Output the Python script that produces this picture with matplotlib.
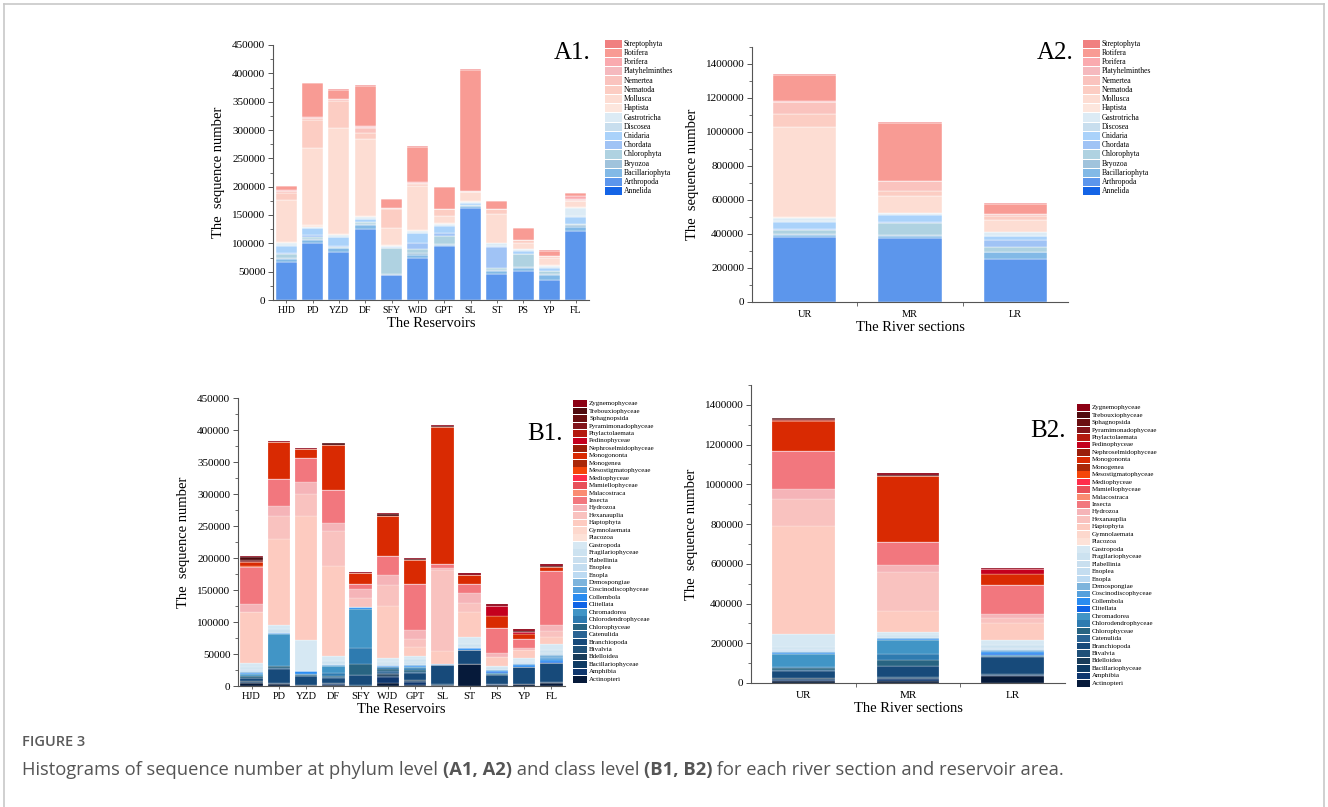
import matplotlib
matplotlib.use('Agg')
import matplotlib.pyplot as plt
from matplotlib.patches import Rectangle
from matplotlib.lines import Line2D
from matplotlib.ticker import MultipleLocator, FixedLocator
import numpy as np

plt.rcParams['font.family'] = ['Liberation Serif', 'DejaVu Serif']

W, H = 1328, 807

reservoirs = ['HJD', 'PD', 'YZD', 'DF', 'SFY', 'WJD', 'GPT', 'SL', 'ST', 'PS', 'YP', 'FL']
sections = ['UR', 'MR', 'LR']

# phyla, bottom of the stack first
phyla = ['Annelida', 'Arthropoda', 'Bacillariophyta', 'Bryozoa', 'Chlorophyta', 'Chordata',
         'Cnidaria', 'Discosea', 'Gastrotricha', 'Haptista', 'Mollusca', 'Nematoda',
         'Nemertea', 'Platyhelminthes', 'Porifera', 'Rotifera', 'Streptophyta']
phylum_colors = ['#1464E6', '#5C96EC', '#82B9E6', '#A0C3DC', '#AFD2E1', '#A0C3F5',
                 '#AAD2FA', '#C8DEEE', '#DCEBF5', '#FDE6DD', '#FDDDD3', '#FCCDC3',
                 '#FAC3BE', '#F5B9BE', '#FAAAAF', '#F89B94', '#F08080']

# sequence number per phylum (x1000), one row per reservoir
a1_counts = [
    [0.5, 66, 5, 2, 8, 2, 12, 1, 3.5, 2, 75, 12, 3, 1, 2, 6, 1],        # HJD
    [0.5, 100, 5, 2, 4, 3, 12, 1, 2, 3, 136, 50, 3, 0.5, 0.5, 60, 0.5],  # PD
    [0.5, 84, 7, 0.5, 2, 0.5, 17, 0.5, 2, 2, 188, 47, 3, 1, 0, 16, 0.5], # YZD
    [0.5, 124, 8, 2, 3, 0.5, 5, 0.5, 3, 2, 135, 12, 8, 2, 1, 72, 1],     # DF
    [0.5, 43, 1, 2, 45, 0.5, 1, 0.5, 2, 1, 30, 34, 1, 0, 0, 17, 0.5],    # SFY
    [0.5, 74, 5, 3, 8, 10, 17, 1, 3, 2, 77, 4, 2, 0.5, 0.5, 63, 1],      # WJD
    [0.5, 94, 2, 2, 15, 5, 12, 1, 3, 2, 12, 12, 0.5, 0, 0, 38, 0.5],     # GPT
    [0.5, 162, 3, 0.5, 1, 0.5, 4, 0.5, 1, 1, 16, 1, 0.5, 0, 0, 215, 1],  # SL
    [0.5, 45, 5, 3, 3, 37, 2, 0.5, 4, 1, 50, 9, 1, 0, 0, 14, 0.5],       # ST
    [0.5, 50, 6, 2, 22, 0.5, 6, 0.5, 2, 1, 10, 5, 0.5, 0, 0, 21, 0.5],   # PS
    [0.5, 34, 10, 1, 6, 0.5, 5, 0.5, 3, 1, 12, 4, 0.5, 0, 0, 9, 0.5],    # YP
    [0.5, 121, 8, 3, 2, 0.5, 12, 2, 13, 2, 10, 1, 2, 1, 5, 5, 1],        # FL
]
a2_counts = [
    [2, 378, 15, 5, 22, 5, 45, 2, 18, 8, 530, 75, 70, 3, 2, 158, 2],     # UR
    [1, 378, 12, 3, 70, 5, 45, 2, 6, 3, 100, 25, 62, 1, 1, 340, 2],      # MR
    [1, 254, 38, 3, 30, 40, 20, 2, 22, 3, 70, 25, 8, 2, 2, 58, 2],       # LR
]

# classes, bottom of the stack first
classes = ['Actinopteri', 'Amphibia', 'Bacillariophyceae', 'Bdelloidea', 'Bivalvia',
           'Branchiopoda', 'Catenulida', 'Chlorophyceae', 'Chlorodendrophyceae', 'Chromadorea',
           'Clitellata', 'Collembola', 'Coscinodiscophyceae', 'Demospongiae', 'Enopla',
           'Enoplea', 'Flabellinia', 'Fragilariophyceae', 'Gastropoda', 'Placozoa',
           'Gymnolaemata', 'Haptophyta', 'Hexanauplia', 'Hydrozoa', 'Insecta',
           'Malacostraca', 'Mamiellophyceae', 'Mediophyceae', 'Mesostigmatophyceae', 'Monogenea',
           'Monogononta', 'Nephroselmidophyceae', 'Pedinophyceae', 'Phylactolaemata',
           'Pyramimonadophyceae', 'Sphagnopsida', 'Trebouxiophyceae', 'Zygnemophyceae']
class_colors = ['#061A3A', '#0F376E', '#0E3A63', '#193C5A', '#1F5078',
                '#174A7A', '#2A6494', '#286482', '#2E7BB0', '#4195C6',
                '#0F64E6', '#2A8CF0', '#55A0DC', '#7DB4DC', '#BCDAF2',
                '#C4DDF0', '#C9DFEF', '#CCE2F0', '#D6E8F3', '#FDE2D8',
                '#FDD8CD', '#FDCBC0', '#F9C2BF', '#F5B4B8', '#F2777E',
                '#FA8C72', '#E8505A', '#FF2D4B', '#F5460A', '#AA2808',
                '#D92A02', '#9A1E0A', '#C4001E', '#B4190F',
                '#82141A', '#6A0E10', '#500A0E', '#8C0014']

# sequence number per class (x1000), one row per reservoir
b1_counts = [
    [4, 0, 2, 2, 0, 5, 0, 3, 0, 3, 0, 1, 1, 1, 1, 2, 2, 2, 7, 0,
     0, 80, 0, 12, 58, 0.5, 0, 0, 1, 0, 6, 0, 0, 0, 2, 2, 4, 1],        # HJD
    [3, 0, 1, 0, 0, 22, 2, 3, 0, 50, 0, 2, 0, 0, 0, 0, 0, 6, 6, 0,
     0, 134, 37, 15, 42, 0, 0, 0, 0, 0, 59, 0, 0, 0, 0, 0, 0, 1],       # PD
    [1, 0, 1, 0, 0, 13, 0, 2, 1, 1, 0, 4, 1, 0, 0, 0, 0, 0, 48, 0,
     0, 193, 35, 18, 38, 0, 0, 0, 0, 0, 14, 0, 0, 0, 0, 0, 1, 1],       # YZD
    [2, 1, 1, 0, 1, 7, 2, 2, 4, 11, 0, 1, 1, 0, 0, 2, 0, 4, 8, 0,
     0, 140, 55, 12, 52, 0, 0, 0, 0, 0, 71, 0, 0, 0, 0, 0, 2, 1],       # DF
    [0, 0, 0, 0, 1, 16, 0, 17, 26, 61, 0, 2, 0, 0, 0, 0, 0, 0, 1, 0,
     0, 0, 14, 14, 8, 0, 0, 0, 0, 0, 17, 0, 0, 0, 0, 0, 0, 1.5],        # SFY
    [4, 10, 2, 2, 0, 3, 2, 3, 3, 0, 1, 2, 0, 0, 0, 2, 0, 4, 6, 0,
     0, 81, 33, 15, 30, 0, 0, 0, 0, 0, 63, 0, 0, 0, 0, 0, 2, 3],        # WJD
    [2, 4, 2, 2, 0, 10, 2, 3, 3, 2, 0, 1, 2, 0, 0, 2, 3, 4, 5, 0,
     0, 14, 13, 13, 72, 0, 0, 0, 0, 0, 38, 0, 0, 0, 0, 0, 1, 2],        # GPT
    [1, 0, 1, 0, 1, 30, 0, 0, 0, 0, 0, 1, 0, 0, 0, 0, 0, 0, 1, 0,
     0, 20, 126, 3, 6, 0, 0, 0, 0, 0, 215, 0, 0, 0, 0, 0, 1, 2],        # SL
    [34, 0, 0, 0, 1, 21, 0, 0, 0, 0, 1, 2, 0, 0, 0, 1, 1, 5, 10, 0,
     0, 40, 13, 16, 14, 0, 0, 0, 0, 0, 14, 0, 0, 0, 0, 0, 1, 2],        # ST
    [1, 2, 0, 0, 0, 14, 0, 2, 0, 2, 1, 2, 1, 0, 0, 2, 0, 2, 2, 0,
     0, 14, 0, 6, 39, 0, 0, 0, 0, 0, 19, 0, 16, 0, 0, 0, 0.5, 2],       # PS
    [3, 0, 0, 0, 0, 26, 0, 0, 0, 0, 1, 3, 2, 0, 0, 1, 1, 2, 4, 0,
     0, 14, 0, 3, 13, 0, 0, 0, 0, 0, 8, 0, 4, 0, 0, 0, 1, 2.5],         # YP
    [5, 0, 1, 0, 0, 30, 0, 0, 0, 0, 2, 3, 2, 5, 0, 0, 3, 5, 9, 0,
     0, 11, 10, 9, 84, 0, 0, 0, 0, 0, 7, 0, 0, 0, 0, 0, 1, 3],          # FL
]
b2_counts = [
    [12, 3, 5, 3, 3, 35, 4, 8, 6, 66, 2, 5, 3, 2, 2, 5, 5, 10, 67, 0,
     0, 545, 134, 52, 193, 0, 0, 0, 0, 0, 151, 0, 0, 3, 2, 2, 4, 4],    # UR
    [8, 12, 3, 3, 2, 56, 2, 28, 33, 70, 1, 4, 2, 0, 0, 6, 3, 8, 14, 0,
     0, 109, 193, 38, 113, 0, 0, 0, 0, 0, 335, 0, 0, 0, 0, 0, 5, 8],    # MR
    [35, 4, 2, 1, 1, 90, 1, 2, 1, 2, 5, 10, 6, 6, 0, 4, 6, 14, 28, 0,
     0, 84, 25, 20, 148, 0, 0, 0, 0, 0, 53, 0, 24, 0, 0, 0, 2, 4],      # LR
]


def px_box(left, top, right, bottom):
    return [left / W, 1 - bottom / H, (right - left) / W, (bottom - top) / H]


def stacked(ax, labels, counts, colors, width, edge):
    x = np.arange(len(labels))
    vals = np.array(counts, dtype=float).T * 1000
    base = np.zeros(len(labels))
    for row, c in zip(vals, colors):
        ax.bar(x, row, width, bottom=base, color=c, edgecolor='white', linewidth=edge)
        base += row


def style(ax, labels, ymax, major, xlabel, tick_size, between=False):
    ax.set_xlim(-0.5, len(labels) - 0.5)
    ax.set_ylim(0, ymax)
    ax.yaxis.set_major_locator(MultipleLocator(major))
    ax.yaxis.set_minor_locator(MultipleLocator(major / 2))
    ax.yaxis.set_major_formatter(lambda v, p: f'{v:.0f}')
    for s in ['top', 'right']:
        ax.spines[s].set_visible(False)
    for s in ['left', 'bottom']:
        ax.spines[s].set_color('#555555')
        ax.spines[s].set_linewidth(0.8)
    ax.set_xticks(np.arange(len(labels)))
    ax.set_xticklabels(labels)
    ax.tick_params(axis='y', which='major', length=3.5, width=0.7, color='#555555',
                   labelsize=8, pad=2)
    ax.tick_params(axis='y', which='minor', length=2, width=0.6, color='#555555')
    if between:
        ax.xaxis.set_minor_locator(FixedLocator(np.arange(len(labels) - 1) + 0.5))
        ax.tick_params(axis='x', which='major', length=0, labelsize=tick_size, pad=6)
        ax.tick_params(axis='x', which='minor', length=3, width=0.6, color='#555555')
    else:
        ax.tick_params(axis='x', which='major', length=2.5, width=0.6, color='#555555',
                       labelsize=tick_size, pad=2)
    ax.set_xlabel(xlabel, fontsize=10.5, labelpad=1)
    ax.set_ylabel('The  sequence number', fontsize=10.5, labelpad=5)


def legend_column(left, top, right, bottom, sw, names, colors, size):
    lax = fig.add_axes(px_box(left, top, right, bottom))
    n = len(names)
    lax.set_xlim(0, right - left)
    lax.set_ylim(n, 0)
    for i, (name, c) in enumerate(zip(names[::-1], colors[::-1])):
        lax.add_patch(Rectangle((0, i + 0.06), sw, 0.88, color=c, lw=0))
        lax.text(sw + 2, i + 0.5, name, va='center', ha='left', fontsize=size)
    lax.axis('off')


fig = plt.figure(figsize=(W / 100, H / 100), dpi=100)

ax_a1 = fig.add_axes(px_box(273, 45, 589, 300))
stacked(ax_a1, reservoirs, a1_counts, phylum_colors, 0.8, 0.3)
style(ax_a1, reservoirs, 450000, 50000, 'The Reservoirs', 7)
ax_a1.text(0.946, 0.969, 'A1.', transform=ax_a1.transAxes, fontsize=18, ha='center', va='center')

ax_a2 = fig.add_axes(px_box(752, 47, 1068, 302))
stacked(ax_a2, sections, a2_counts, phylum_colors, 0.6, 0.3)
style(ax_a2, sections, 1500000, 200000, 'The River sections', 7.5, between=True)
ax_a2.text(0.959, 0.976, 'A2.', transform=ax_a2.transAxes, fontsize=18, ha='center', va='center')

ax_b1 = fig.add_axes(px_box(238, 398, 565, 686))
stacked(ax_b1, reservoirs, b1_counts, class_colors, 0.82, 0.15)
style(ax_b1, reservoirs, 450000, 50000, 'The Reservoirs', 7.5)
ax_b1.text(0.939, 0.875, 'B1.', transform=ax_b1.transAxes, fontsize=18, ha='center', va='center')

ax_b2 = fig.add_axes(px_box(751, 385, 1065, 683))
stacked(ax_b2, sections, b2_counts, class_colors, 0.6, 0.15)
style(ax_b2, sections, 1500000, 200000, 'The River sections', 8, between=True)
ax_b2.text(0.946, 0.846, 'B2.', transform=ax_b2.transAxes, fontsize=18, ha='center', va='center')

legend_column(605, 39, 690, 196, 17, phyla, phylum_colors, 5.5)
legend_column(1083, 39, 1170, 196, 17, phyla, phylum_colors, 5.5)
legend_column(573, 400, 670, 683, 14, classes, class_colors, 5)
legend_column(1077, 404, 1170, 687, 13, classes, class_colors, 5)

# light frame around the figure
frame = '#c8c8c8'
fig.add_artist(Line2D([4 / W, 4 / W], [0, 1 - 4 / H], transform=fig.transFigure, color=frame, lw=1.2))
fig.add_artist(Line2D([4 / W, 1324 / W], [1 - 4 / H, 1 - 4 / H], transform=fig.transFigure, color=frame, lw=1.2))
fig.add_artist(Line2D([1324 / W, 1324 / W], [0, 1 - 4 / H], transform=fig.transFigure, color=frame, lw=1.2))

# caption
cap = fig.add_axes([0, 0, 1, 1], zorder=-1)
cap.axis('off')
cap.text(22 / W, 1 - 742 / H, 'FIGURE 3', family='Open Sans', fontsize=10.5,
         color='#5a5a5a', weight='semibold', va='center', ha='left')
parts = [('Histograms of sequence number at phylum level ', 'normal'),
         ('(A1, A2)', 'bold'),
         (' and class level ', 'normal'),
         ('(B1, B2)', 'bold'),
         (' for each river section and reservoir area.', 'normal')]
t = cap.text(22 / W, 1 - 770 / H, parts[0][0], family='Open Sans', fontsize=13.2,
             color='#555555', va='center', ha='left')
for s, w in parts[1:]:
    t = cap.annotate(s, xy=(1, 0), xycoords=t, va='bottom', ha='left',
                     family='Open Sans', fontsize=13.2, color='#555555', weight=w)

fig.savefig('out.png', dpi=100)
